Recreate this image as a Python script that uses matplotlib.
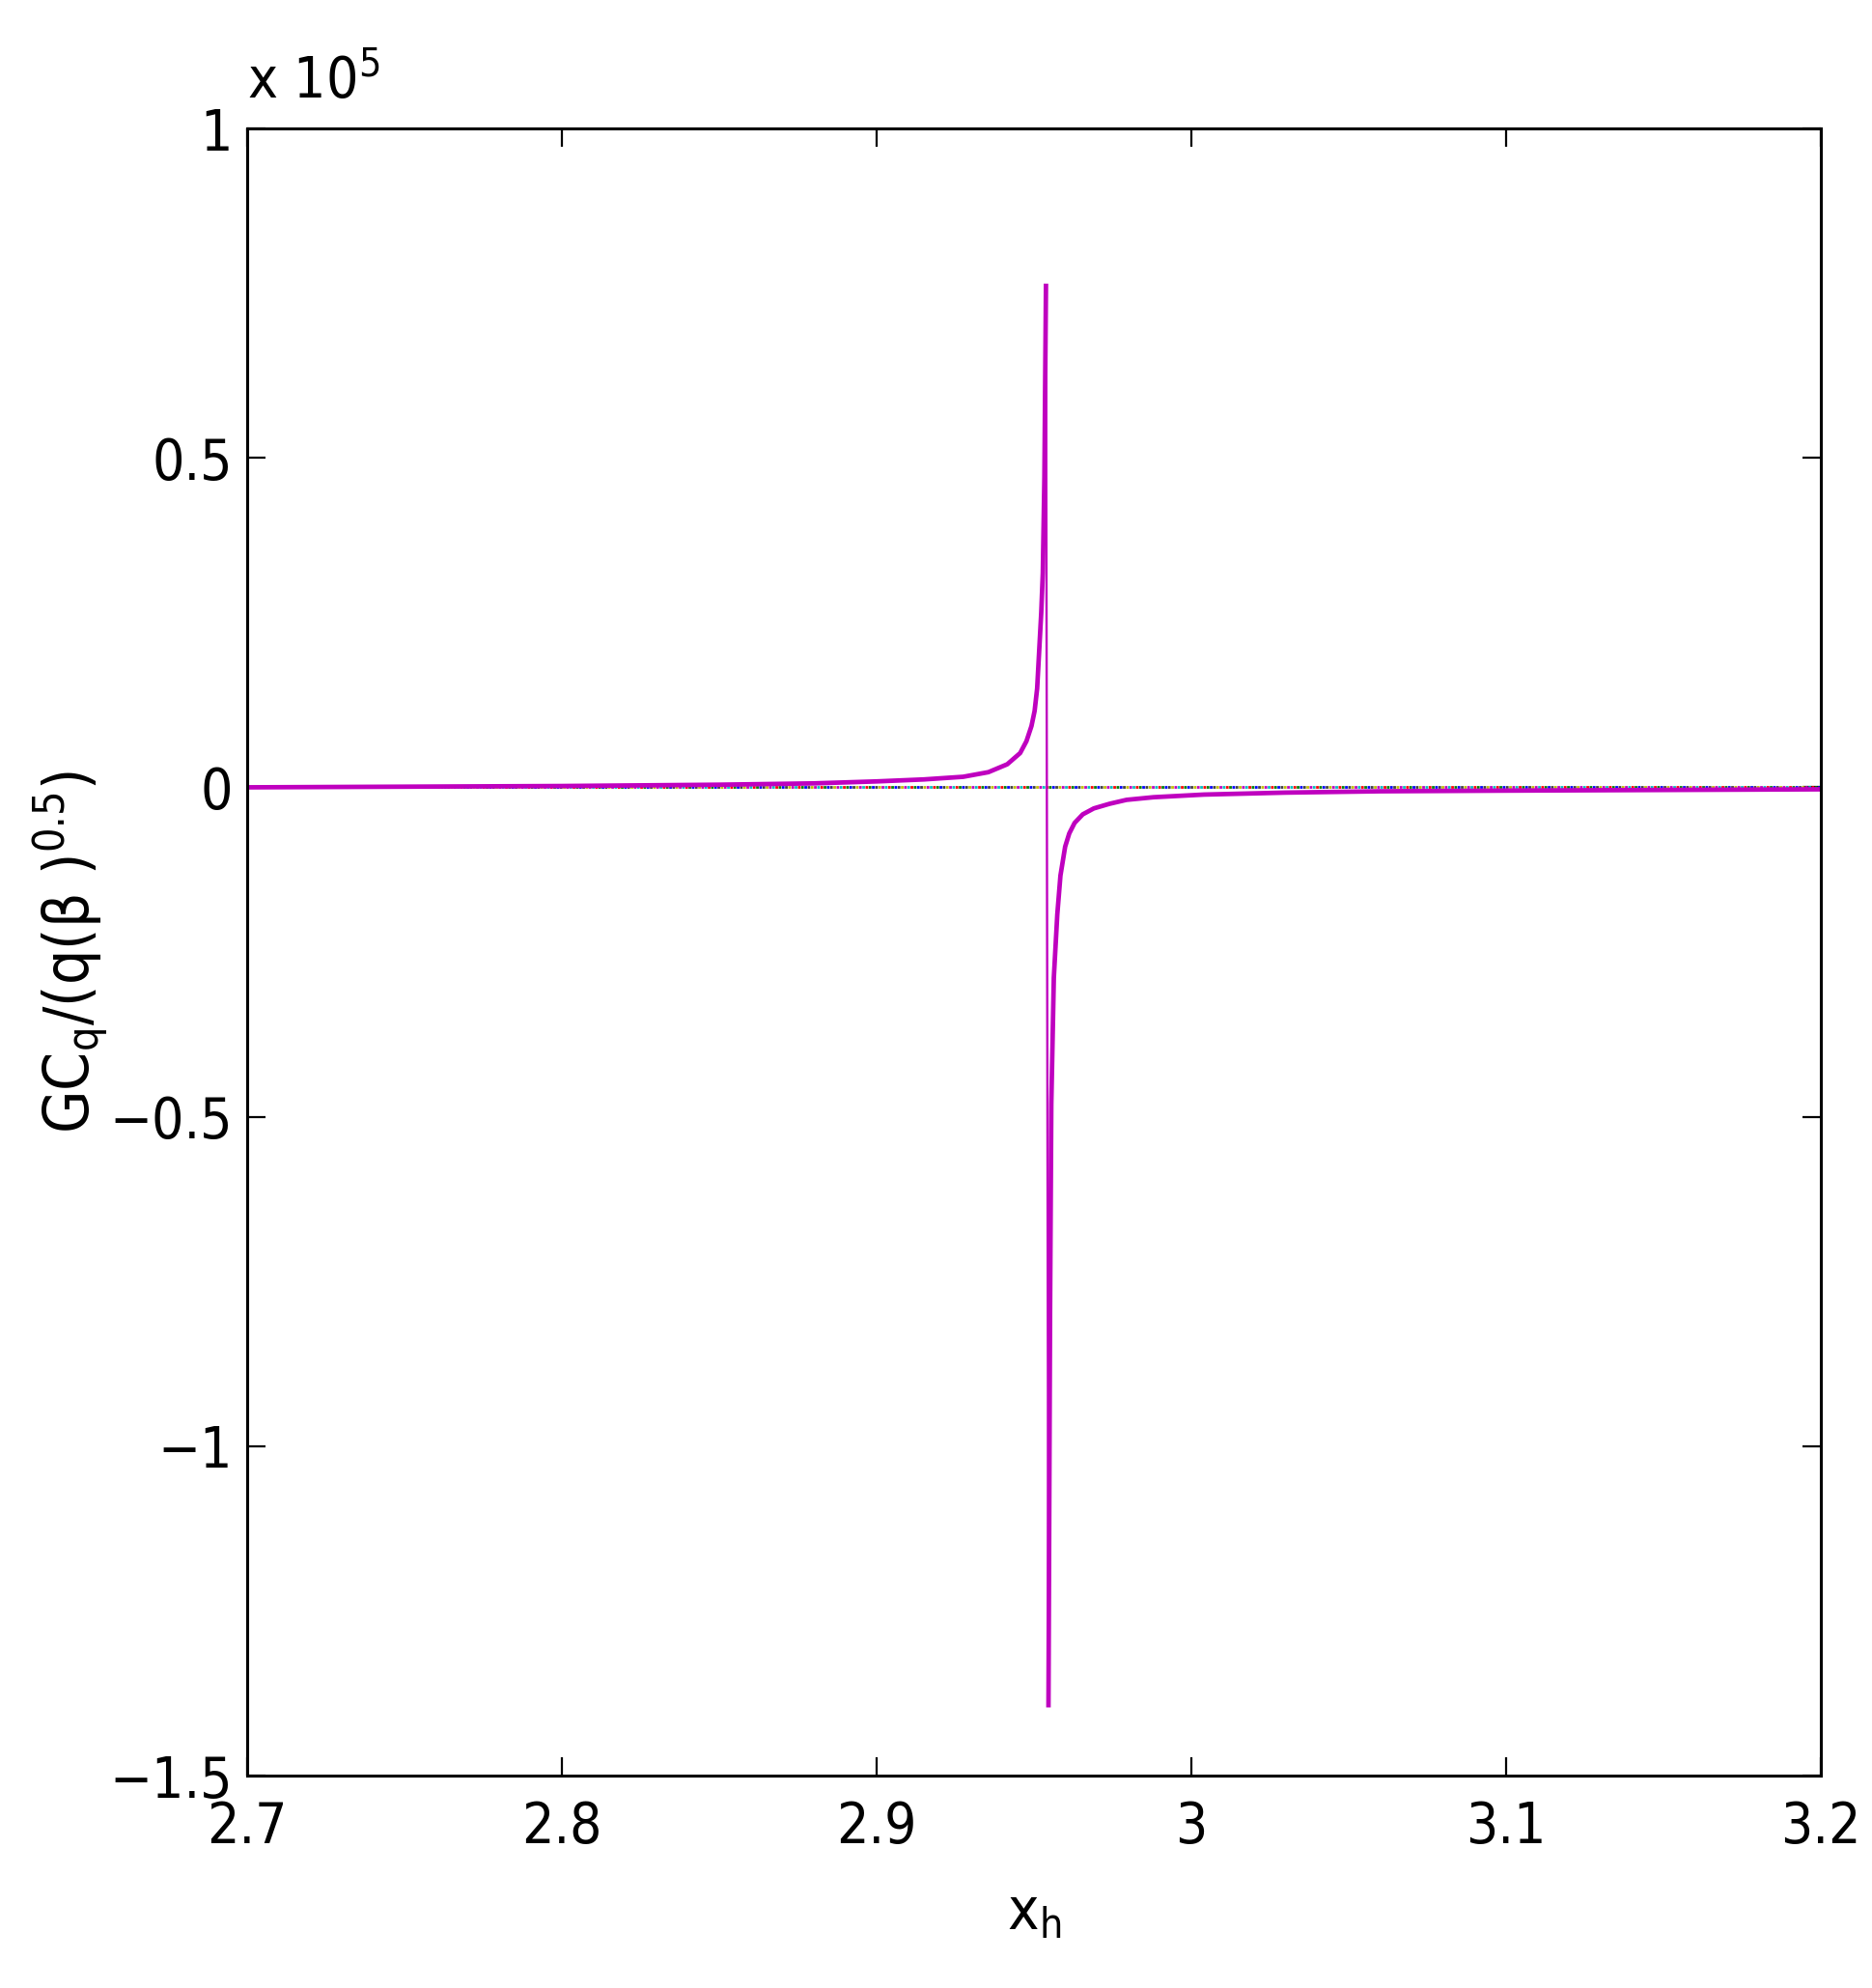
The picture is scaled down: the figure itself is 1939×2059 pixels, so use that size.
import numpy as np
import matplotlib
matplotlib.use('Agg')
from matplotlib import pyplot as plt, font_manager

# pick a narrow sans face if one is installed (the original looks condensed)
entries = font_manager.fontManager.ttflist
names = {f.name for f in entries}
font_stretch = 'normal'
if 'Liberation Sans Narrow' in names:
    families = ['Liberation Sans Narrow', 'Liberation Sans', 'DejaVu Sans']
    fs = 46
elif any(f.name == 'DejaVu Sans' and str(f.stretch) in ('condensed', 'semi-condensed') for f in entries):
    families = ['DejaVu Sans', 'Liberation Sans']
    font_stretch = 'condensed'
    fs = 42
else:
    families = ['Liberation Sans', 'DejaVu Sans']
    fs = 42
plt.rcParams['font.family'] = families
plt.rcParams['font.stretch'] = font_stretch
plt.rcParams['mathtext.default'] = 'regular'

# left branch (x, y in units of 1e5)
x_left = [2.70, 2.75, 2.80, 2.85, 2.88, 2.90, 2.915, 2.9275, 2.9355, 2.9415, 2.9456,
          2.9476, 2.9492, 2.9502, 2.9510, 2.9517, 2.9523, 2.9528, 2.9533, 2.9538]
y_left = [0.000, 0.001, 0.002, 0.004, 0.006, 0.009, 0.012, 0.016, 0.023, 0.035, 0.052,
          0.070, 0.093, 0.116, 0.150, 0.212, 0.265, 0.325, 0.470, 0.761]
# jump through the pole
x_jump = [2.9538, 2.9546]
y_jump = [0.761, -1.393]
# right branch
x_right = [2.9546, 2.9551, 2.9555, 2.9563, 2.9574, 2.9584, 2.9599, 2.9612, 2.9629, 2.9655,
           2.9690, 2.974, 2.9794, 2.988, 3.004, 3.03, 3.06, 3.10, 3.15, 3.20]
y_right = [-1.393, -0.80, -0.48, -0.289, -0.193, -0.134, -0.090, -0.070, -0.054, -0.041,
           -0.032, -0.025, -0.019, -0.015, -0.011, -0.008, -0.006, -0.005, -0.004, -0.003]

# flat reference lines at zero (several overlapping dotted series)
zero_x = [2.70, 3.20]
zero_y = [0.0, 0.0]
zero_colors = ['#bfbf00', '#404040', '#0000ff', '#008000', '#ff0000', '#00bfbf', '#bf00bf']

xticks = [2.7, 2.8, 2.9, 3.0, 3.1, 3.2]
xticklabels = ['2.7', '2.8', '2.9', '3', '3.1', '3.2']
yticks = [-1.5, -1.0, -0.5, 0.0, 0.5, 1.0]
yticklabels = ['\u22121.5', '\u22121', '\u22120.5', '0', '0.5', '1']

fig = plt.figure(figsize=(19.39, 20.59), dpi=100)
ax = fig.add_axes([0.132, 0.1068, 0.8407, 0.8286])

# dotted series interleaved so the dots cycle through the colours
zlw = 2.0
step = 2.4 / zlw
for i, c in enumerate(zero_colors):
    ax.plot(zero_x, zero_y, color=c, linewidth=zlw, solid_capstyle='butt',
            dash_capstyle='butt',
            linestyle=(i * step, (1.0, step * len(zero_colors) - 1.0)))

mag = '#bf00bf'
ax.plot(x_left, y_left, color=mag, linewidth=3.4)
ax.plot(x_jump, y_jump, color=mag, linewidth=1.7)
ax.plot(x_right, y_right, color=mag, linewidth=3.4)

ax.set_xlim(2.7, 3.2)
ax.set_ylim(-1.5, 1.0)
ax.set_xticks(xticks)
ax.set_xticklabels(xticklabels)
ax.set_yticks(yticks)
ax.set_yticklabels(yticklabels)
ax.tick_params(direction='in', length=14, width=1.6, labelsize=fs,
               top=True, right=True)
ax.tick_params(axis='x', pad=18)
ax.tick_params(axis='y', pad=11)
for s in ax.spines.values():
    s.set_linewidth(2.2)

ax.set_xlabel('x$_{h}$', fontsize=fs + 2)
ax.xaxis.set_label_coords(0.5, -0.066)
ax.xaxis.label.set_va('top')
ax.set_ylabel('GC$_{q}$/(q(\u03b2 )$^{0.5}$)', fontsize=fs + 4)
ax.yaxis.set_label_coords(-0.112, 0.5)
ax.yaxis.label.set_va('center')

ax.text(0.0, 1.018, 'x 10$^{5}$', transform=ax.transAxes, fontsize=fs,
        ha='left', va='baseline')

fig.savefig('out.png', facecolor='white')
plt.close(fig)
